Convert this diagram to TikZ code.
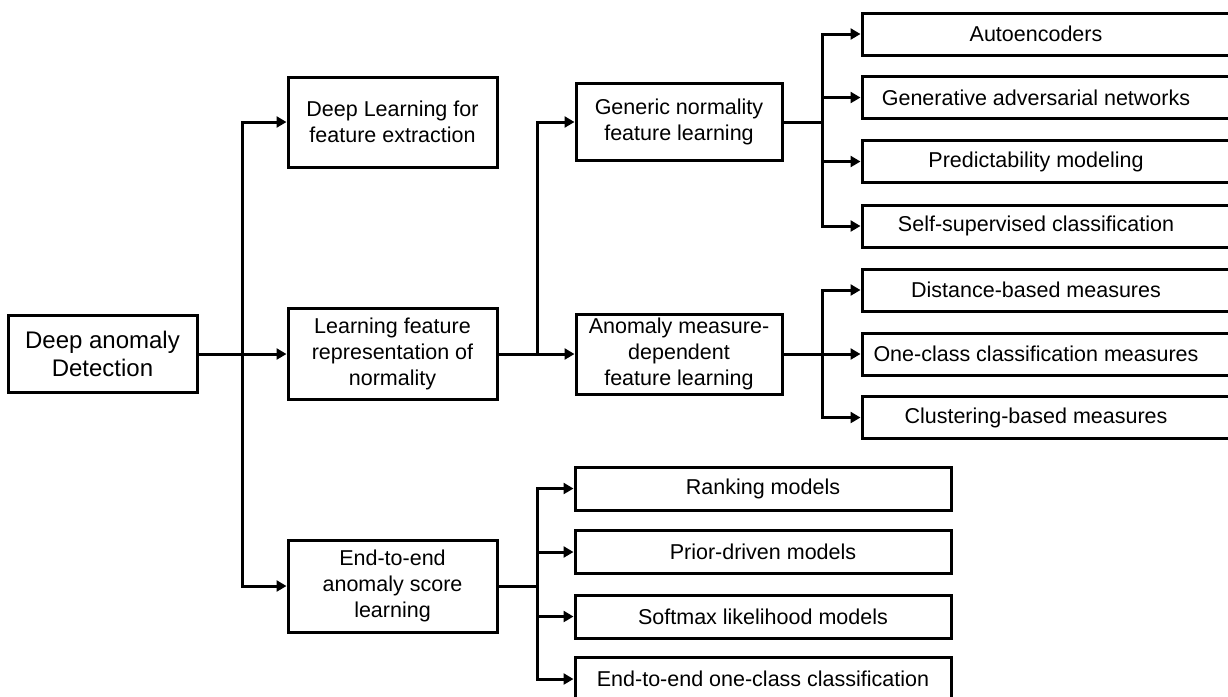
\documentclass[tikz,border=0pt]{standalone}
\usepackage{fontspec}
\setmainfont{Liberation Sans}
\usepackage{tikz}
\usetikzlibrary{arrows.meta}

\begin{document}
\begin{tikzpicture}[x=0.5pt, y=-0.5pt,
    box/.style={draw, line width=1.5pt, inner sep=0pt, align=center, font=\fontsize{10.75}{13}\selectfont},
    link/.style={line width=1.5pt},
    arr/.style={line width=1.5pt, -{Triangle[length=5pt, width=5.5pt]}}]
    \useasboundingbox (0,0) rectangle (1228,697);
    \clip (0,0) rectangle (1228,697);
    % Root
    \node[box, minimum width=94.5pt, minimum height=38.5pt, font=\fontsize{12}{14}\selectfont] (root) at (102.5,354) {Deep anomaly\\Detection};
    % Level 1
    \node[box, minimum width=104.5pt, minimum height=45pt]   (fe)  at (392.5,122) {Deep Learning for\\feature extraction};
    \node[box, minimum width=104.5pt, minimum height=45.5pt] (rep) at (392.5,354) {Learning feature\\representation of\\normality};
    \node[box, minimum width=104.5pt, minimum height=46pt]   (e2e) at (392.5,586) {End-to-end\\anomaly score\\learning};
    % Level 2
    \node[box, minimum width=103pt, minimum height=38.5pt] (generic) at (679,122) {Generic normality\\feature learning};
    \node[box, minimum width=103pt, minimum height=40pt]   (measure) at (679,354) {Anomaly measure-\\dependent\\feature learning};
    % Level 3 (generic normality)
    \node[box, minimum width=189pt, minimum height=21pt] (ae)   at (1051,34)    {Autoencoders\hspace{15pt}};
    \node[box, minimum width=189pt, minimum height=21pt] (gan)  at (1051,97.5)  {Generative adversarial networks\hspace{15pt}};
    \node[box, minimum width=189pt, minimum height=21pt] (pred) at (1051,161.5) {Predictability modeling\hspace{15pt}};
    \node[box, minimum width=189pt, minimum height=21pt] (ssc)  at (1051,226)   {Self-supervised classification\hspace{15pt}};
    % Level 3 (measure-dependent)
    \node[box, minimum width=189pt, minimum height=21pt] (dist) at (1051,290)   {Distance-based measures\hspace{15pt}};
    \node[box, minimum width=189pt, minimum height=21pt] (occm) at (1051,354)   {One-class classification measures\hspace{15pt}};
    \node[box, minimum width=189pt, minimum height=21pt] (clus) at (1051,417.5) {Clustering-based measures\hspace{15pt}};
    % Level 2 (end-to-end)
    \node[box, minimum width=188pt, minimum height=21.5pt] (rank)    at (763,488.5) {Ranking models};
    \node[box, minimum width=188pt, minimum height=21.5pt] (prior)   at (763,552)   {Prior-driven models};
    \node[box, minimum width=188pt, minimum height=21.5pt] (softmax) at (763,616.5) {Softmax likelihood models};
    \node[box, minimum width=188pt, minimum height=21.5pt] (occ)     at (763,679)   {End-to-end one-class classification};
    % Junctions
    \coordinate (j1) at (242,354);
    \coordinate (j2) at (537,354);
    \coordinate (j3) at (537,586);
    \coordinate (j4) at (822,122);
    \coordinate (j5) at (822,354);
    % Connectors
    \draw[arr] (root.east) -- (rep.west);
    \draw[arr] (j1) |- (fe.west);
    \draw[arr] (j1) |- (e2e.west);
    \draw[arr] (rep.east) -- (measure.west);
    \draw[arr] (j2) |- (generic.west);
    \draw[link] (e2e.east) -- (j3);
    \foreach \n in {rank,prior,softmax,occ}
        \draw[arr] (j3) |- (\n.west);
    \draw[link] (generic.east) -- (j4);
    \foreach \n in {ae,gan,pred,ssc}
        \draw[arr] (j4) |- (\n.west);
    \draw[link] (measure.east) -- (j5);
    \foreach \n in {dist,occm,clus}
        \draw[arr] (j5) |- (\n.west);
\end{tikzpicture}
\end{document}
